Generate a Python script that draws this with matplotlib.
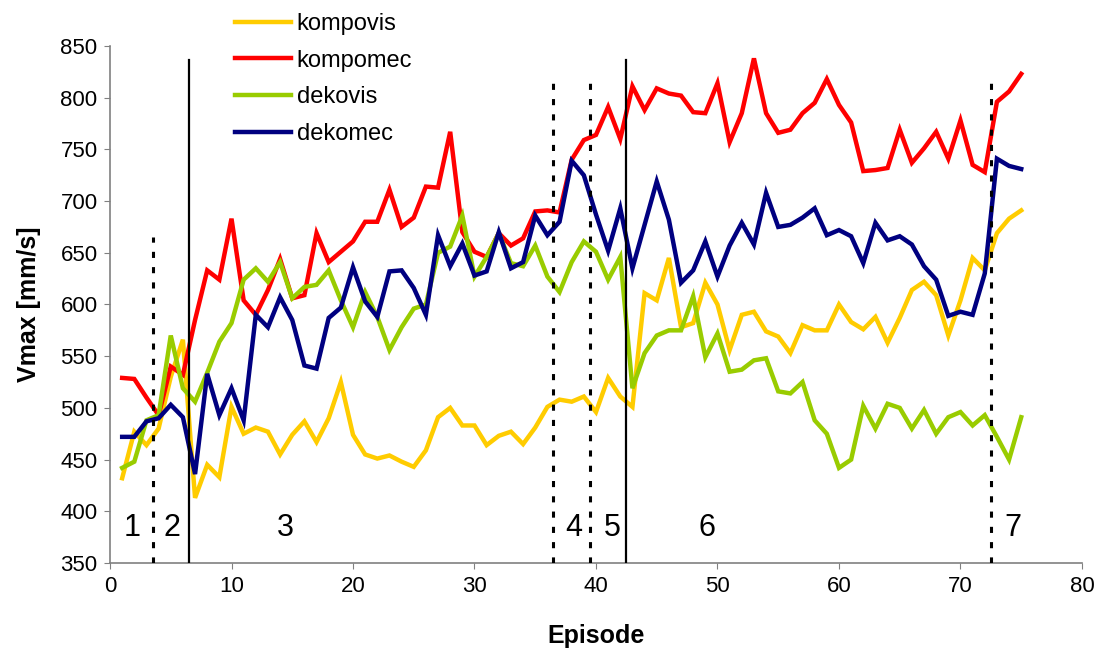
import numpy as np
import matplotlib
matplotlib.use("Agg")
import matplotlib.pyplot as plt

plt.rcParams['font.family'] = ['Liberation Sans', 'DejaVu Sans']

episodes = np.arange(1, 76)

kompovis = [432, 477, 464, 480, 530, 566, 413, 445, 433, 501,
            475, 481, 477, 455, 474, 487, 467, 490, 525, 474,
            455, 451, 454, 448, 443, 459, 491, 500, 483, 483,
            464, 473, 477, 465, 481, 501, 508, 506, 511, 496,
            529, 511, 501, 611, 604, 645, 578, 582, 621, 600,
            556, 590, 593, 574, 569, 553, 580, 575, 575, 600,
            583, 576, 588, 563, 587, 614, 622, 609, 570, 604,
            645, 633, 669, 683, 691]

kompomec = [529, 528, 510, 493, 540, 532, 585, 633, 624, 683,
            604, 590, 614, 644, 606, 609, 669, 641, 651, 661,
            680, 680, 711, 675, 684, 714, 713, 767, 670, 651,
            646, 669, 657, 664, 690, 691, 689, 740, 759, 764,
            791, 760, 811, 788, 809, 804, 802, 786, 785, 814,
            757, 785, 838, 785, 766, 769, 785, 795, 818, 793,
            776, 729, 730, 732, 769, 737, 751, 767, 741, 778,
            735, 728, 796, 806, 823]

dekovis = [442, 448, 488, 493, 570, 519, 506, 534, 564, 582,
           624, 635, 622, 641, 606, 617, 619, 633, 604, 578,
           612, 588, 556, 578, 596, 600, 650, 656, 686, 627,
           646, 669, 640, 637, 657, 627, 612, 641, 661, 651,
           624, 646, 519, 553, 570, 575, 575, 608, 549, 572,
           535, 537, 546, 548, 516, 514, 525, 488, 475, 442,
           450, 502, 480, 504, 500, 480, 498, 475, 491, 496,
           483, 493, 472, 450, 491]

dekomec = [472, 472, 487, 490, 503, 491, 436, 533, 493, 519,
           488, 590, 578, 607, 585, 541, 538, 587, 597, 636,
           603, 588, 632, 633, 616, 590, 667, 637, 659, 628,
           632, 670, 635, 641, 686, 667, 680, 739, 725, 687,
           652, 693, 635, 677, 719, 682, 621, 633, 661, 627,
           657, 679, 658, 708, 675, 677, 684, 693, 667, 672,
           666, 640, 679, 662, 666, 658, 637, 624, 589, 593,
           590, 630, 741, 734, 731]

# phase boundaries: (episode, top of line)
dotted_bounds = [(3.5, 665), (36.5, 816), (39.5, 816), (72.5, 816)]
solid_bounds = [(6.5, 836), (42.5, 836)]

phase_labels = ['1', '2', '3', '4', '5', '6', '7']
phase_x = [1.8, 5.1, 14.4, 38.2, 41.3, 49.1, 74.3]

fig = plt.figure(figsize=(10.99, 6.53), dpi=100)
ax = fig.add_axes([0.1001, 0.1378, 0.8844, 0.7918])

series = [('kompovis', kompovis, '#FFCC00'),
          ('kompomec', kompomec, '#FF0000'),
          ('dekovis', dekovis, '#99CC00'),
          ('dekomec', dekomec, '#000080')]
handles = []
for name, vals, col in series:
    h, = ax.plot(episodes, vals, color=col, lw=3.2, label=name,
                 solid_joinstyle='miter', zorder=3)
    handles.append(h)

for x, top in dotted_bounds:
    ax.plot([x, x], [350, top], color='black', lw=2.2,
            dashes=(2.0, 3.0), zorder=4)
for x, top in solid_bounds:
    ax.plot([x, x], [350, top], color='black', lw=1.6, zorder=4)

for lab, x in zip(phase_labels, phase_x):
    ax.text(x, 384, lab, fontsize=22, ha='center', va='center')

ax.set_xlim(0, 80)
ax.set_ylim(350, 850)
ax.set_xticks(np.arange(0, 81, 10))
ax.set_yticks(np.arange(350, 851, 50))
ax.tick_params(labelsize=16, length=4, color='#808080', pad=5)
for s in ['top', 'right']:
    ax.spines[s].set_visible(False)
for s in ['left', 'bottom']:
    ax.spines[s].set_color('#808080')
    ax.spines[s].set_linewidth(1.2)

ax.set_xlabel('Episode', fontsize=18, fontweight='bold', labelpad=20)
ax.set_ylabel('Vmax [mm/s]', fontsize=18, fontweight='bold', labelpad=14)

fig.legend(handles=handles, loc='upper left', bbox_to_anchor=(0.214, 0.980),
           frameon=False, fontsize=17, handlelength=2.35, handletextpad=0.25,
           labelspacing=0.62, borderpad=0, borderaxespad=0)

plt.savefig("out.png", dpi=100)
